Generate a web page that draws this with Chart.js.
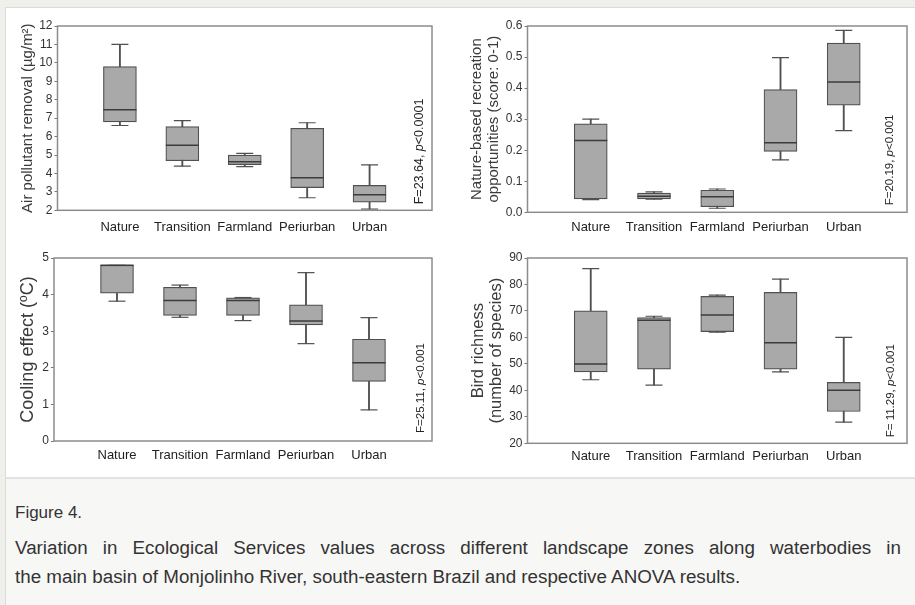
<!DOCTYPE html>
<html>
<head>
<meta charset="utf-8">
<script src="https://cdn.jsdelivr.net/npm/chart.js@4.4.1/dist/chart.umd.min.js"></script>
<style>
  html, body { margin: 0; padding: 0; width: 915px; height: 605px; overflow: hidden; background: #efefeb;
    font-family: "Liberation Sans", Arial, sans-serif; }
  #sheet { position: absolute; left: 5px; top: 7px; width: 920px; height: 470px; background: #fff;
    border-left: 1px solid #dcdcd7; border-top: 1px solid #dcdcd7; }
  #caption { position: absolute; left: 5px; top: 477px; width: 920px; height: 128px; background: #f7f7f5;
    border-left: 1px solid #dcdcd7; border-top: 2px solid #e2e2de; color: #333; }
  #caption .fig { position: absolute; left: 9px; top: 19px; font-size: 17px; line-height: 29px; margin: 0; }
  #caption .line { position: absolute; left: 9px; font-size: 18.8px; line-height: 29px; margin: 0; white-space: nowrap; }
  #caption .l1 { top: 54px; width: 886px; text-align: justify; text-align-last: justify; white-space: normal; }
  #caption .l2 { top: 83px; }
  canvas { position: absolute; }
</style>
</head>
<body>
<div id="sheet"></div>
<canvas id="air" width="444" height="232" style="left:6px;top:8px;width:444px;height:232px"></canvas>
<canvas id="rec" width="475" height="232" style="left:450px;top:8px;width:475px;height:232px"></canvas>
<canvas id="cool" width="444" height="232" style="left:6px;top:240px;width:444px;height:232px"></canvas>
<canvas id="bird" width="475" height="232" style="left:450px;top:240px;width:475px;height:232px"></canvas>
<div id="caption">
  <p class="fig">Figure 4.</p>
  <p class="line l1">Variation in Ecological Services values across different landscape zones along waterbodies in</p>
  <p class="line l2">the main basin of Monjolinho River, south-eastern Brazil and respective ANOVA results.</p>
</div>
<script>
// Landscape zones along the waterbodies
const categories = ['Nature', 'Transition', 'Farmland', 'Periurban', 'Urban'];

// Air pollutant removal (µg/m²): whisker ends, quartiles and median per zone
const airMin    = [6.6, 4.4, 4.37, 2.68, 2.07];
const airQ1     = [6.8, 4.69, 4.48, 3.23, 2.44];
const airMedian = [7.45, 5.53, 4.64, 3.77, 2.85];
const airQ3     = [9.8, 6.54, 5.0, 6.45, 3.35];
const airMax    = [11.0, 6.87, 5.09, 6.75, 4.46];

// Nature-based recreation opportunities (score 0-1)
const recMin    = [0.041, 0.042, 0.013, 0.169, 0.263];
const recQ1     = [0.043, 0.043, 0.018, 0.196, 0.345];
const recMedian = [0.231, 0.052, 0.050, 0.224, 0.420];
const recQ3     = [0.285, 0.062, 0.071, 0.395, 0.545];
const recMax    = [0.300, 0.066, 0.075, 0.498, 0.586];

// Cooling effect (ºC)
const coolMin    = [3.82, 3.38, 3.29, 2.66, 0.85];
const coolQ1     = [4.04, 3.43, 3.43, 3.17, 1.63];
const coolMedian = [4.80, 3.84, 3.84, 3.28, 2.14];
const coolQ3     = [4.80, 4.20, 3.91, 3.72, 2.78];
const coolMax    = [4.80, 4.26, 3.92, 4.60, 3.37];

// Bird richness (number of species)
const birdMin    = [44, 42, 62, 47, 28];
const birdQ1     = [47, 48, 62.2, 48, 32];
const birdMedian = [50, 66.5, 68.5, 58, 40];
const birdQ3     = [70, 67.5, 75.5, 77, 43];
const birdMax    = [86, 68, 76, 82, 60];

// Y-axis ranges and tick steps
const airTicks  = { min: 2, max: 12, step: 1 };
const recTicks  = { min: 0, max: 0.6, step: 0.1 };
const coolTicks = { min: 0, max: 5, step: 1 };
const birdTicks = { min: 20, max: 90, step: 10 };

// ANOVA results
const anovaF = ['F=23.64, ', 'F=20.19, ', 'F=25.11, ', 'F= 11.29, '];
const anovaP = ['<0.0001', '<0.001', '<0.001', '<0.001'];

const FONT = '"Liberation Sans", Arial, sans-serif';
Chart.defaults.font.family = FONT;

const BOX_FILL = '#a9a9a9';
const INK = '#505050';

// Frame round the plotting area
const framePlugin = {
  id: 'frame',
  beforeDatasetsDraw(chart) {
    const a = chart.chartArea, ctx = chart.ctx;
    ctx.save();
    ctx.strokeStyle = '#8c8c8c';
    ctx.lineWidth = 1.5;
    ctx.strokeRect(a.left, a.top, a.right - a.left, a.bottom - a.top);
    ctx.restore();
  }
};

// Vertical ANOVA note with an italic p
function notePlugin(fText, pText, inset, lift, size) {
  return {
    id: 'anovaNote',
    afterDatasetsDraw(chart) {
      const a = chart.chartArea, ctx = chart.ctx;
      ctx.save();
      ctx.translate(a.right - inset, a.bottom - lift);
      ctx.rotate(-Math.PI / 2);
      ctx.fillStyle = '#222';
      ctx.textBaseline = 'middle';
      ctx.textAlign = 'left';
      let x = 0;
      ctx.font = size + 'px ' + FONT;
      ctx.fillText(fText, x, 0); x += ctx.measureText(fText).width;
      ctx.font = 'italic ' + size + 'px ' + FONT;
      ctx.fillText('p', x, 0); x += ctx.measureText('p').width;
      ctx.font = size + 'px ' + FONT;
      ctx.fillText(pText, x, 0);
      ctx.restore();
    }
  };
}

function boxPanel(p) {
  const xs = categories.map((_, i) => i + 1);
  const s = p.stats;
  const datasets = [
    { type: 'bar', data: xs.map((x, i) => ({ x, y: [s.min[i], s.max[i]] })),
      barThickness: 1.2, backgroundColor: INK, borderWidth: 0, grouped: false, order: 4 },
    { type: 'bar', data: xs.map((x, i) => ({ x, y: [s.q1[i], s.q3[i]] })),
      barThickness: 33, backgroundColor: BOX_FILL, borderColor: INK, borderWidth: 1.2,
      borderSkipped: false, grouped: false, order: 3 },
    { type: 'line', data: xs.map((x, i) => ({ x, y: s.min[i] })).concat(xs.map((x, i) => ({ x, y: s.max[i] }))),
      showLine: false, pointStyle: 'line', pointRadius: 8.5, pointBorderWidth: 1.2,
      pointBorderColor: INK, pointBackgroundColor: INK, order: 2 },
    { type: 'line', data: xs.map((x, i) => ({ x, y: s.median[i] })),
      showLine: false, pointStyle: 'line', pointRadius: 16.5, pointBorderWidth: 1.5,
      pointBorderColor: '#3c3c3c', pointBackgroundColor: '#3c3c3c', order: 1 }
  ];
  const c = p.canvas, a = p.area;
  const titleLH = p.titleLH;
  const titlePad = (p.titleX - c.left) - titleLH / 2;
  new Chart(document.getElementById(p.id), {
    type: 'bar',
    data: { datasets },
    options: {
      responsive: false,
      animation: false,
      events: [],
      layout: { padding: { top: a.top - c.top, right: c.left + c.width - a.right, bottom: 0, left: 0 } },
      plugins: { legend: { display: false }, tooltip: { enabled: false } },
      scales: {
        x: {
          type: 'linear', min: 0, max: 6, offset: false,
          grid: { display: false, drawTicks: false },
          border: { display: false },
          ticks: { stepSize: 1, autoSkip: false, maxRotation: 0, padding: p.xPad, color: '#222',
            font: { size: 13 }, callback: v => categories[v - 1] || '' },
          afterFit: sc => { sc.height = c.top + c.height - a.bottom; }
        },
        y: {
          min: p.ticks.min, max: p.ticks.max,
          grid: { display: true, drawOnChartArea: false, drawTicks: true, tickLength: 3, color: '#777', lineWidth: 1 },
          border: { display: false },
          ticks: { stepSize: p.ticks.step, padding: 2, color: '#333', font: { size: p.tickSize },
            callback: p.tickFormat },
          title: { display: true, text: p.title, color: '#3a3a3a',
            font: { size: p.titleSize, lineHeight: titleLH / p.titleSize },
            padding: { top: titlePad, bottom: 0 } },
          afterFit: sc => { sc.width = a.left - c.left; }
        }
      }
    },
    plugins: [framePlugin, notePlugin(p.fText, p.pText, p.noteInset, p.noteLift, p.noteSize)]
  });
}

boxPanel({
  id: 'air',
  stats: { min: airMin, q1: airQ1, median: airMedian, q3: airQ3, max: airMax },
  ticks: airTicks, tickFormat: v => String(v), tickSize: 12,
  title: 'Air pollutant removal (µg/m²)', titleSize: 15, titleLH: 18, titleX: 28,
  canvas: { left: 6, top: 8, width: 444, height: 232 },
  area: { left: 57.5, top: 23.3, right: 444, bottom: 210.3 },
  xPad: 9, fText: anovaF[0], pText: anovaP[0], noteInset: 12, noteLift: 6, noteSize: 12.5
});

boxPanel({
  id: 'rec',
  stats: { min: recMin, q1: recQ1, median: recMedian, q3: recQ3, max: recMax },
  ticks: recTicks, tickFormat: v => v.toFixed(1), tickSize: 12,
  title: ['Nature-based recreation', 'opportunities (score: 0-1)'], titleSize: 15, titleLH: 17, titleX: 477,
  canvas: { left: 450, top: 8, width: 475, height: 232 },
  area: { left: 527.5, top: 24, right: 920, bottom: 212.3 },
  xPad: 7, fText: anovaF[1], pText: anovaP[1], noteInset: 17, noteLift: 7, noteSize: 11.5
});

boxPanel({
  id: 'cool',
  stats: { min: coolMin, q1: coolQ1, median: coolMedian, q3: coolQ3, max: coolMax },
  ticks: coolTicks, tickFormat: v => String(v), tickSize: 12,
  title: 'Cooling effect (ºC)', titleSize: 18, titleLH: 21, titleX: 28,
  canvas: { left: 6, top: 240, width: 444, height: 232 },
  area: { left: 54, top: 250.7, right: 443.5, bottom: 441 },
  xPad: 7, fText: anovaF[2], pText: anovaP[2], noteInset: 11.5, noteLift: 8, noteSize: 11.5
});

boxPanel({
  id: 'bird',
  stats: { min: birdMin, q1: birdQ1, median: birdMedian, q3: birdQ3, max: birdMax },
  ticks: birdTicks, tickFormat: v => String(v), tickSize: 12,
  title: ['Bird richness', '(number of species)'], titleSize: 16.5, titleLH: 18, titleX: 478,
  canvas: { left: 450, top: 240, width: 475, height: 232 },
  area: { left: 527.5, top: 252.3, right: 920, bottom: 443.3 },
  xPad: 5, fText: anovaF[3], pText: anovaP[3], noteInset: 16, noteLift: 6, noteSize: 11.5
});
</script>
</body>
</html>
